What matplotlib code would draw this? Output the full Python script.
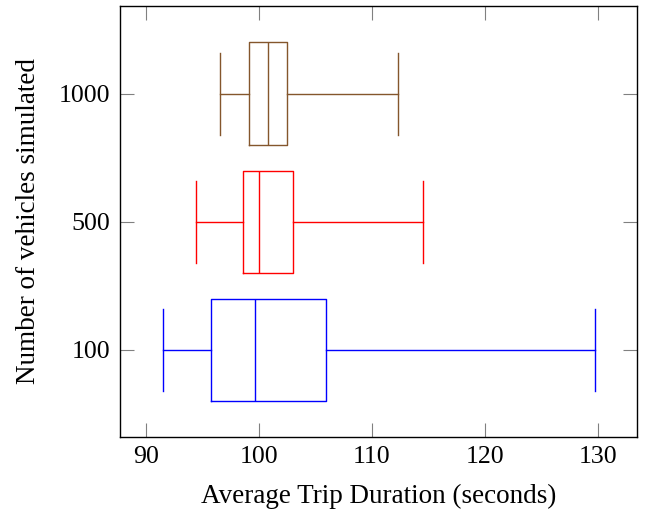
import matplotlib
matplotlib.use("Agg")
import matplotlib.pyplot as plt

categories = ["100", "500", "1000"]
whislo = [91.5, 94.45, 96.55]
q1 = [95.75, 98.6, 99.1]
med = [99.7, 100.0, 100.85]
q3 = [105.95, 103.0, 102.5]
whishi = [129.7, 114.5, 112.3]
colors = ["#0000ff", "#ff0000", "#84562c"]

plt.rcParams['font.family'] = ['Liberation Serif', 'DejaVu Serif']

fig = plt.figure(figsize=(6.54, 5.13), dpi=100)
ax = fig.add_axes([0.1842, 0.1487, 0.7903, 0.8396])

stats = []
for i in range(len(categories)):
    stats.append(dict(label=categories[i], whislo=whislo[i], q1=q1[i], med=med[i],
                      q3=q3[i], whishi=whishi[i], fliers=[]))

for i, s in enumerate(stats):
    c = colors[i]
    ax.bxp([s], positions=[i + 1], vert=False, widths=0.8, showfliers=False,
           boxprops=dict(color=c, linewidth=1.0),
           medianprops=dict(color=c, linewidth=1.0),
           whiskerprops=dict(color=c, linewidth=1.0),
           capprops=dict(color=c, linewidth=1.0),
           capwidths=0.64)

ax.set_xlim(87.77, 133.45)
ax.set_ylim(0.323, 3.684)
ax.set_xticks([90, 100, 110, 120, 130])
ax.set_yticks([1, 2, 3])
ax.set_yticklabels(categories)
ax.tick_params(direction='in', length=10, width=0.8, color='#808080',
               top=True, right=True, labelsize=18.6)
ax.tick_params(axis='x', pad=7)
ax.tick_params(axis='y', pad=7.5)
for sp in ax.spines.values():
    sp.set_linewidth(1.0)
    sp.set_color('black')
ax.set_xlabel("Average Trip Duration (seconds)", fontsize=19.5)
ax.set_ylabel("Number of vehicles simulated", fontsize=19.5)
ax.xaxis.set_label_coords(0.5, -0.11)
ax.yaxis.set_label_coords(-0.154, 0.5)

fig.savefig("out.png", dpi=100)
